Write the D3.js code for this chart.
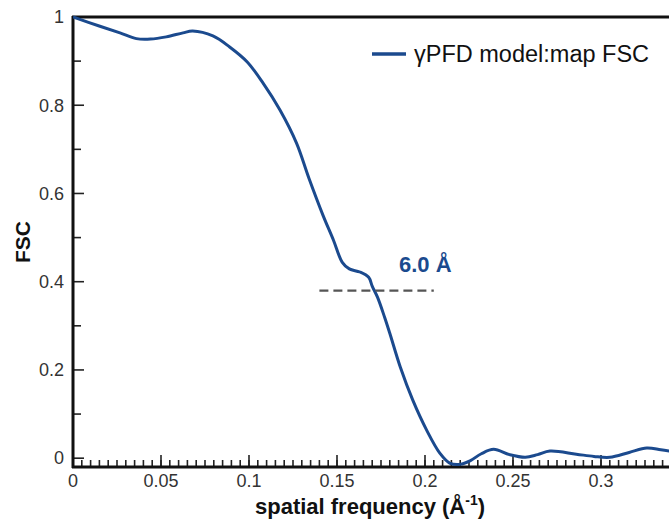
<!DOCTYPE html>
<html>
<head>
  <script src="https://d3js.org/d3.v7.min.js" charset="utf-8"></script>
  <style>
    body { margin: 0; background: #fff; }
    text { font-family: "Liberation Sans", Arial, Helvetica, sans-serif; }
  </style>
</head>
<body>
  <script>

  var width = 669
  var height = 526

  // FSC curve
  var freq = [0, 0.0153, 0.0267, 0.036, 0.044, 0.053, 0.0625, 0.068, 0.0795, 0.089, 0.099, 0.108,
              0.1176, 0.127, 0.134, 0.142, 0.148, 0.153, 0.157, 0.163, 0.168, 0.170, 0.173,
              0.177, 0.180, 0.186, 0.193, 0.201, 0.2085, 0.214, 0.220, 0.2256, 0.232, 0.239, 0.248,
              0.257, 0.264, 0.271, 0.286, 0.296, 0.305, 0.316, 0.326, 0.334, 0.342];
  var fsc  = [1.0, 0.979, 0.964, 0.951, 0.950, 0.955, 0.964, 0.968, 0.957, 0.932, 0.898, 0.850,
              0.789, 0.714, 0.635, 0.551, 0.494, 0.444, 0.429, 0.422, 0.410, 0.390, 0.365,
              0.320, 0.283, 0.206, 0.132, 0.063, 0.011, -0.011, -0.014, -0.006, 0.010, 0.020, 0.008,
              0.002, 0.008, 0.016, 0.009, 0.004, 0.002, 0.013, 0.023, 0.019, 0.014];

  var xMajor = [0, 0.05, 0.1, 0.15, 0.2, 0.25, 0.3];
  var xLabels = ["0", "0.05", "0.1", "0.15", "0.2", "0.25", "0.3"];
  var xMinor = d3.range(0, 68).map(function(i) { return i * 0.005; });
  var yMajor = [0, 0.2, 0.4, 0.6, 0.8, 1];
  var yLabels = ["0", "0.2", "0.4", "0.6", "0.8", "1"];
  var yMinor = [0.1, 0.3, 0.5, 0.7, 0.9];

  var threshold = 0.38;
  var thresholdRange = [0.14, 0.205];

  var blue = "#1b4a8e";

  var x = d3.scaleLinear().domain([0, 0.34]).range([73, 73 + 0.34 * 1760]);
  var y = d3.scaleLinear().domain([-0.02, 1]).range([467, 17]);

  var svg = d3.select('body').append("svg")
    .attr("width", width)
    .attr("height", height);

  svg.append("defs").append("clipPath").attr("id", "clip")
    .append("rect").attr("x", 73).attr("y", 0).attr("width", width - 73).attr("height", 467);

  // x ticks, pointing inward
  svg.selectAll(".xminor")
    .data(xMinor).enter()
    .append("line")
    .attr("x1", function(d) { return x(d); }).attr("x2", function(d) { return x(d); })
    .attr("y1", 467).attr("y2", 460)
    .attr("stroke", "#222").attr("stroke-width", 1.6);
  svg.selectAll(".xmajor")
    .data(xMajor).enter()
    .append("line")
    .attr("x1", function(d) { return x(d); }).attr("x2", function(d) { return x(d); })
    .attr("y1", 467).attr("y2", 455)
    .attr("stroke", "#222").attr("stroke-width", 1.6);
  svg.selectAll(".xlabel")
    .data(xMajor).enter()
    .append("text")
    .attr("x", function(d) { return x(d); })
    .attr("y", 487)
    .attr("text-anchor", "middle")
    .attr("font-size", 18).attr("fill", "#333")
    .text(function(d, i) { return xLabels[i]; });

  // y ticks
  svg.selectAll(".yminor")
    .data(yMinor).enter()
    .append("line")
    .attr("x1", 73).attr("x2", 81)
    .attr("y1", function(d) { return y(d); }).attr("y2", function(d) { return y(d); })
    .attr("stroke", "#222").attr("stroke-width", 1.6);
  svg.selectAll(".ymajor")
    .data(yMajor).enter()
    .append("line")
    .attr("x1", 73).attr("x2", 84)
    .attr("y1", function(d) { return y(d); }).attr("y2", function(d) { return y(d); })
    .attr("stroke", "#222").attr("stroke-width", 1.6);
  svg.selectAll(".ylabel")
    .data(yMajor).enter()
    .append("text")
    .attr("x", 64)
    .attr("y", function(d) { return y(d); })
    .attr("dy", "0.35em")
    .attr("text-anchor", "end")
    .attr("font-size", 18).attr("fill", "#333")
    .text(function(d, i) { return yLabels[i]; });

  // frame lines
  svg.append("line").attr("x1", 72).attr("x2", width).attr("y1", 17).attr("y2", 17)
    .attr("stroke", "#111").attr("stroke-width", 3);
  svg.append("line").attr("x1", 72).attr("x2", width).attr("y1", 467).attr("y2", 467)
    .attr("stroke", "#111").attr("stroke-width", 3);
  svg.append("line").attr("x1", 73).attr("x2", 73).attr("y1", 16).attr("y2", 468)
    .attr("stroke", "#111").attr("stroke-width", 3);

  // curve
  var line = d3.line()
    .x(function(d, i) { return x(freq[i]); })
    .y(function(d, i) { return y(fsc[i]); })
    .curve(d3.curveCatmullRom.alpha(0.5));

  svg.append("path")
    .datum(fsc)
    .attr("clip-path", "url(#clip)")
    .attr("d", line)
    .attr("fill", "none")
    .attr("stroke", blue)
    .attr("stroke-width", 3);

  // threshold
  svg.append("line")
    .attr("x1", x(thresholdRange[0])).attr("x2", x(thresholdRange[1]))
    .attr("y1", y(threshold)).attr("y2", y(threshold))
    .attr("stroke", "#555").attr("stroke-width", 2.2)
    .attr("stroke-dasharray", "9,5");

  svg.append("text")
    .attr("x", 399).attr("y", 272)
    .attr("font-size", 22).attr("font-weight", "bold")
    .attr("fill", blue)
    .text("6.0 Å");

  // legend
  svg.append("line").attr("x1", 372).attr("x2", 406).attr("y1", 54).attr("y2", 54)
    .attr("stroke", blue).attr("stroke-width", 3.5);
  svg.append("text").attr("x", 414).attr("y", 62)
    .attr("font-size", 23.5).attr("fill", "#111")
    .text("γPFD model:map FSC");

  // axis titles
  var xt = svg.append("text")
    .attr("x", 370).attr("y", 514)
    .attr("text-anchor", "middle")
    .attr("font-size", 22).attr("font-weight", "bold").attr("fill", "#111");
  xt.append("tspan").text("spatial frequency (Å");
  xt.append("tspan").attr("dy", -9).attr("font-size", 14).text("-1");
  xt.append("tspan").attr("dy", 9).text(")");

  svg.append("text")
    .attr("transform", "translate(30,242) rotate(-90)")
    .attr("text-anchor", "middle")
    .attr("font-size", 21).attr("font-weight", "bold").attr("fill", "#111")
    .text("FSC");

  </script>
</body>
</html>
